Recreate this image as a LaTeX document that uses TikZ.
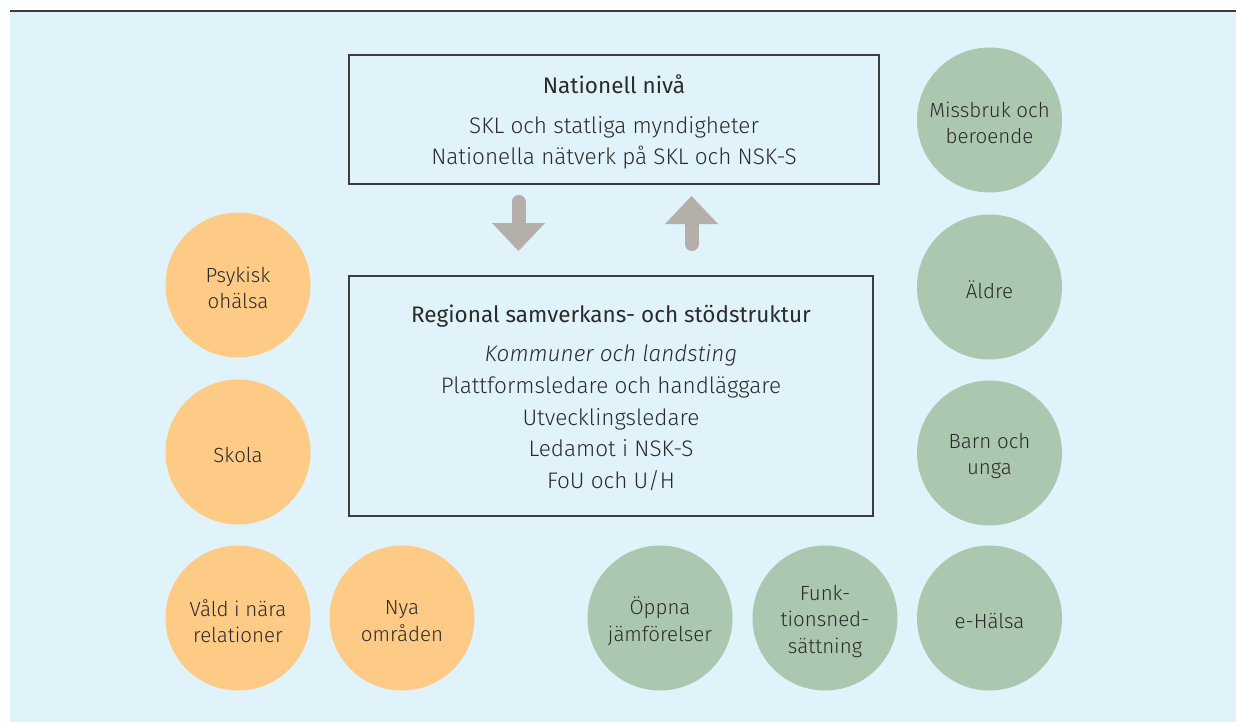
\documentclass[tikz,border=0pt]{standalone}
\usepackage{fontspec}
\setmainfont{Fira Sans}[UprightFont=* Light, ItalicFont=* Light Italic, BoldFont=*]
\definecolor{bgblue}{HTML}{E0F3FA}
\definecolor{orangec}{HTML}{FDCB85}
\definecolor{greenc}{HTML}{ABC7B0}
\definecolor{arrowg}{HTML}{B5AFA9}
\definecolor{txt}{HTML}{2B2B2B}
\definecolor{linec}{HTML}{3C3C3C}
\tikzset{
  levelbox/.style={draw=linec, line width=1.3pt, rectangle, inner sep=0pt},
  boxtext/.style={align=center, text=txt, inner sep=0pt},
  topic/.style={circle, minimum size=145pt, inner sep=0pt},
  topiclabel/.style={align=center, text=txt, inner sep=0pt, yshift=-3pt,
    font=\fontsize{20.5}{26.5}\selectfont},
  orangetopic/.style={topic, fill=orangec},
  greentopic/.style={topic, fill=greenc},
  blockarrow/.style={fill=arrowg, draw=none},
  shaft/.style={draw=arrowg, line width=14pt, line cap=round}
}
\begin{document}
\begin{tikzpicture}[x=1pt,y=-1pt]
\useasboundingbox (0,0) rectangle (1236,722);
\fill[white] (0,0) rectangle (1236,722);
\fill[bgblue] (10,12) rectangle (1236,722);
\draw[linec, line width=2pt] (10,11.5) -- (1236,11.5);

\node[levelbox, minimum width=530pt, minimum height=129pt] (nat) at (614,119.5) {};
\node[boxtext, font=\fontsize{22.5}{31}\selectfont] (nattext) at (614,122)
  {{\bfseries Nationell nivå}\\[9pt]SKL och statliga myndigheter\\Nationella nätverk på SKL och NSK-S};

\node[levelbox, minimum width=524pt, minimum height=240pt] (reg) at (611,396) {};
\node[boxtext, font=\fontsize{22.5}{31.7}\selectfont] (regtext) at (611,398)
  {{\bfseries Regional samverkans- och stödstruktur}\\[7.5pt]\textit{Kommuner och landsting}\\Plattformsledare och handläggare\\Utvecklingsledare\\Ledamot i NSK-S\\FoU och U/H};

% down arrow
\coordinate (dtop) at (518.5,202);
\coordinate (dbase) at (518.5,224);
\draw[shaft] (dtop) -- (dbase);
\fill[blockarrow] (492,223) -- (545,223) -- (518.5,251) -- cycle;
% up arrow
\coordinate (ubot) at (691.5,244);
\coordinate (ubase) at (691.5,223);
\draw[shaft] (ubot) -- (ubase);
\fill[blockarrow] (665,224) -- (718,224) -- (691.5,196) -- cycle;

\node[orangetopic, label={[topiclabel]center:{Psykisk\\ohälsa}}] (psyk) at (238,285) {};
\node[orangetopic, label={[topiclabel]center:{Skola}}] (skola) at (238,452) {};
\node[orangetopic, label={[topiclabel]center:{Våld i nära\\relationer}}] (vald) at (238,618) {};
\node[orangetopic, label={[topiclabel]center:{Nya\\områden}}] (nya) at (402,618) {};

\node[greentopic, label={[topiclabel]center:{Öppna\\jämförelser}}] (oppna) at (660,618) {};
\node[greentopic, label={[topiclabel]center:{Funk-\\tionsned-\\sättning}}] (funk) at (825,618) {};
\node[greentopic, label={[topiclabel]center:{e-Hälsa}}] (ehalsa) at (989.5,618) {};
\node[greentopic, label={[topiclabel]center:{Missbruk och\\beroende}}] (missbruk) at (989.5,120) {};
\node[greentopic, label={[topiclabel]center:{Äldre}}] (aldre) at (989.5,287) {};
\node[greentopic, label={[topiclabel]center:{Barn och\\unga}}] (barn) at (989.5,453) {};
\end{tikzpicture}
\end{document}
